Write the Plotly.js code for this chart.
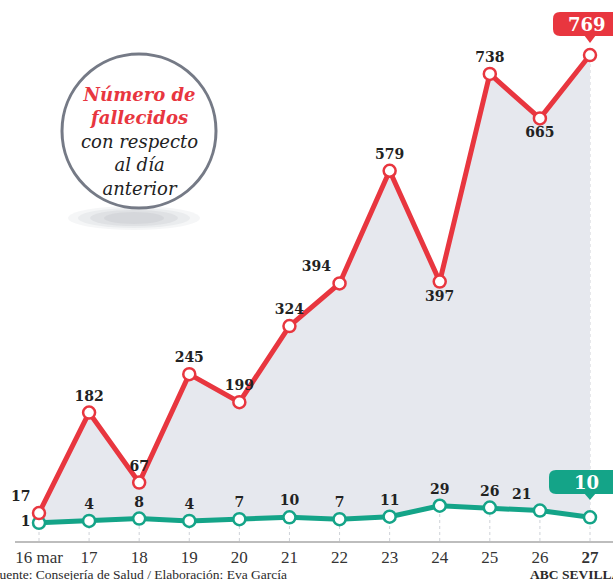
<!DOCTYPE html>
<html><head><meta charset="utf-8">
<script src="https://cdn.plot.ly/plotly-3.0.1.min.js"></script>
<style>html,body{margin:0;padding:0;background:#fff}#chart{width:613px;height:580px}</style>
</head><body><div id="chart"></div>
<script>
const days = ["16 mar","17","18","19","20","21","22","23","24","25","26","<b>27</b>"];
const deaths = [17,182,67,245,199,324,394,579,397,738,665,769];
const deathsDelta = [1,4,8,4,7,10,7,11,29,26,21,10];
const redPos = ["top left","top center","top center","top center","top center","top center","top left","top center","bottom center","top center","bottom center","top center"];
const greenPos = ["middle left","top center","top center","top center","top center","top center","top center","top center","top center","top center","top left","top center"];

const RED = "#e8363f", GREEN = "#14a488", FILL = "#e6e8ee";
const W = 613, H = 580, L = 15, R = 0, T = 40, B = 39;
const pw = W - L - R, ph = H - T - B;
const px = x => (x - L) / pw, py = y => (H - B - y) / ph;
const idx = days.map((_, i) => i);
const n = days.length;

// dotted guide lines under the red line
const gx = [], gy = [];
idx.forEach(i => { gx.push(i, i, null); gy.push(-28.9, deaths[i], null); });

const lbl = arr => arr.map((v, i) => i === n - 1 ? "" : String(v));
const labFont = {family: "DejaVu Serif", size: 14, color: "#222", weight: "bold"};

const traces = [
  {x: gx, y: gy, mode: "lines", line: {color: "#cfd2d8", width: 1, dash: "dot"}, hoverinfo: "skip", showlegend: false},
  {x: idx, y: deathsDelta, mode: "lines+markers+text", text: lbl(deathsDelta), textposition: greenPos, textfont: labFont,
   line: {color: GREEN, width: 5}, marker: {size: 12, color: "#fff", line: {color: GREEN, width: 2.5}}, cliponaxis: false, showlegend: false},
  {x: idx, y: deaths, mode: "lines+markers+text", fill: "tonexty", fillcolor: FILL, text: lbl(deaths), textposition: redPos, textfont: labFont,
   line: {color: RED, width: 5}, marker: {size: 12, color: "#fff", line: {color: RED, width: 2.5}}, cliponaxis: false, showlegend: false}
];

function roundRect(x0, y0, x1, y1, r) {
  const X0 = px(x0), X1 = px(x1), Y0 = py(y0), Y1 = py(y1);
  const rx = r / pw, ry = r / ph;
  return `M${X0+rx},${Y0} L${X1-rx},${Y0} Q${X1},${Y0} ${X1},${Y0-ry} L${X1},${Y1+ry} Q${X1},${Y1} ${X1-rx},${Y1} L${X0+rx},${Y1} Q${X0},${Y1} ${X0},${Y1+ry} L${X0},${Y0-ry} Q${X0},${Y0} ${X0+rx},${Y0} Z`;
}
function tri(cx, ytop, ybot, hw) {
  return `M${px(cx-hw)},${py(ytop)} L${px(cx+hw)},${py(ytop)} L${px(cx)},${py(ybot)} Z`;
}
function ell(cx, cy, rx, ry, color) {
  return {type: "circle", xref: "paper", yref: "paper", x0: px(cx-rx), x1: px(cx+rx), y0: py(cy+ry), y1: py(cy-ry), fillcolor: color, line: {width: 0}, layer: "above"};
}

const shapes = [
  ell(134, 218, 66, 12, "rgba(120,125,135,0.07)"),
  ell(134, 218, 56, 10, "rgba(120,125,135,0.08)"),
  ell(134, 218, 44, 8, "rgba(120,125,135,0.09)"),
  ell(134, 218, 30, 6, "rgba(120,125,135,0.09)"),
  {type: "circle", xref: "paper", yref: "paper", x0: px(62), x1: px(216), y0: py(208), y1: py(54), fillcolor: "#fff", line: {color: "#757a86", width: 3}, layer: "above"},
  {type: "path", xref: "paper", yref: "paper", path: roundRect(553, 12, 625, 36, 7), fillcolor: RED, line: {width: 0}, layer: "above"},
  {type: "path", xref: "paper", yref: "paper", path: tri(590, 35, 43, 6), fillcolor: RED, line: {width: 0}, layer: "above"},
  {type: "path", xref: "paper", yref: "paper", path: roundRect(549, 470, 625, 494, 7), fillcolor: GREEN, line: {width: 0}, layer: "above"},
  {type: "path", xref: "paper", yref: "paper", path: tri(590, 493, 500, 6), fillcolor: GREEN, line: {width: 0}, layer: "above"}
];

const annotations = [
  {xref: "paper", yref: "paper", x: px(139), y: py(141), xanchor: "center", yanchor: "middle", showarrow: false, align: "center",
   text: "<span style='color:" + RED + "'><b><i>Número de<br>fallecidos</i></b></span><br><i>con respecto<br>al día<br>anterior</i>",
   font: {family: "DejaVu Serif", size: 18, color: "#222"}},
  {xref: "paper", yref: "paper", x: px(587), y: py(24), xanchor: "center", yanchor: "middle", showarrow: false,
   text: "<b>" + deaths[n-1] + "</b>", font: {family: "DejaVu Serif", size: 18, color: "#fff"}},
  {xref: "paper", yref: "paper", x: px(586), y: py(482), xanchor: "center", yanchor: "middle", showarrow: false,
   text: "<b>" + deathsDelta[n-1] + "</b>", font: {family: "DejaVu Serif", size: 18, color: "#fff"}},
  {xref: "paper", yref: "paper", x: px(-10), y: py(574), xanchor: "left", yanchor: "middle", showarrow: false,
   text: "Fuente: Consejería de Salud / Elaboración: Eva García", font: {family: "Liberation Serif", size: 13.5, color: "#2a2a2a"}},
  {xref: "paper", yref: "paper", x: px(623), y: py(574), xanchor: "right", yanchor: "middle", showarrow: false,
   text: "<b>ABC SEVILLA</b>", font: {family: "Liberation Serif", size: 13.5, color: "#2a2a2a"}}
];

const layout = {
  width: W, height: H, margin: {l: L, r: R, t: T, b: B},
  paper_bgcolor: "#fff", plot_bgcolor: "#fff",
  xaxis: {range: [-24/50.09, 11 + 23/50.09], tickvals: idx, ticktext: days, showgrid: false, zeroline: false,
          showline: true, linecolor: "#bdbdbd", linewidth: 1.5, ticks: "", ticklen: 0,
          tickfont: {family: "Liberation Serif", size: 17, color: "#333"}, fixedrange: true},
  yaxis: {range: [-28.9, 793.7], showgrid: false, zeroline: false, showticklabels: false, showline: false, fixedrange: true},
  shapes: shapes, annotations: annotations, showlegend: false
};
Plotly.newPlot("chart", traces, layout, {displayModeBar: false, staticPlot: true});
</script></body></html>
